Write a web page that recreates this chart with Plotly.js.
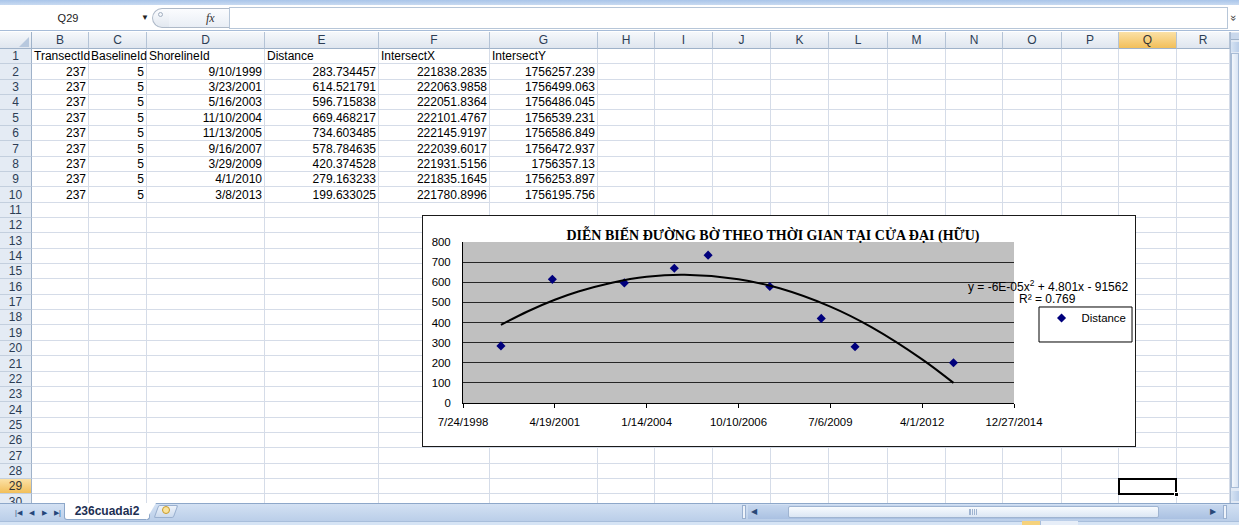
<!DOCTYPE html>
<html>
<head>
<meta charset="utf-8">
<script src="https://cdn.plot.ly/plotly-3.0.1.min.js"></script>
<style>
  html, body { margin: 0; padding: 0; }
  body {
    width: 1239px; height: 525px; overflow: hidden; position: relative;
    background: #fff; font-family: "Liberation Sans", Arial, sans-serif;
  }
  .a { position: absolute; box-sizing: border-box; }
  .txt { position: absolute; box-sizing: border-box; font-size: 12px; color: #000; white-space: nowrap; overflow: visible; }
  .hdr { position: absolute; box-sizing: border-box; font-size: 12px; color: #2c3d55; text-align: center;
         background: linear-gradient(#f6f8fb, #dfe6ef); border-right: 1px solid #b4c3d6; border-bottom: 1px solid #9fb2c9; }
  .hdr.sel { background: linear-gradient(#fbe1a6, #f2bf5a); color: #333; }
  .rowhdr { position: absolute; box-sizing: border-box; font-size: 12px; color: #2c3d55; text-align: center;
            background: #e4ebf4; border-bottom: 1px solid #c3cfde; border-right: 1px solid #9fb2c9; }
  .rowhdr.sel { background: linear-gradient(#fbe1a6, #f2bf5a); color: #333; }
  #chartBox { position: absolute; left: 422px; top: 215px; width: 712px; height: 230px;
              border: 1px solid #1a1a1a; background: #fff; }
  #chart { width: 712px; height: 230px; }
</style>
</head>
<body>
<div id="sheet"></div>
<div id="chartBox"><div id="chart"></div></div>
<script>
// ---- worksheet data (sheet "236cuadai2") ----
const headers        = ['TransectId', 'BaselineId', 'ShorelineId', 'Distance', 'IntersectX', 'IntersectY'];
const transectId     = [237, 237, 237, 237, 237, 237, 237, 237, 237];
const baselineId     = [5, 5, 5, 5, 5, 5, 5, 5, 5];
const shorelineDates = ['9/10/1999', '3/23/2001', '5/16/2003', '11/10/2004', '11/13/2005',
                        '9/16/2007', '3/29/2009', '4/1/2010', '3/8/2013'];
const distance       = [283.734457, 614.521791, 596.715838, 669.468217, 734.603485,
                        578.784635, 420.374528, 279.163233, 199.633025];
const intersectX     = ['221838.2835', '222063.9858', '222051.8364', '222101.4767', '222145.9197',
                        '222039.6017', '221931.5156', '221835.1645', '221780.8996'];
const intersectY     = ['1756257.239', '1756499.063', '1756486.045', '1756539.231', '1756586.849',
                        '1756472.937', '1756357.13', '1756253.897', '1756195.756'];

// polynomial trendline (order 2) of Distance, sampled along its curve
const trendDates  = ['1999-09-10', '2000-07-01', '2001-04-19', '2002-01-01', '2003-01-01', '2004-01-14',
                     '2005-03-01', '2006-10-10', '2008-01-01', '2009-07-06', '2010-10-01', '2012-04-01', '2013-03-08'];
const trendValues = [388, 456, 513, 554, 598, 627, 637, 615, 570, 479, 376, 217, 100];
const trendEquation = 'y = -6E-05x<sup>2</sup> + 4.801x - 91562';
const trendR2       = 'R² = 0.769';

const chartTitle  = 'DIỄN BIẾN ĐƯỜNG BỜ THEO THỜI GIAN TẠI CỬA ĐẠI (HỮU)';
const xTickLabels = ['7/24/1998', '4/19/2001', '1/14/2004', '10/10/2006', '7/6/2009', '4/1/2012', '12/27/2014'];

const colLetters = ['B', 'C', 'D', 'E', 'F', 'G', 'H', 'I', 'J', 'K', 'L', 'M', 'N', 'O', 'P', 'Q', 'R'];
const sheetName  = '236cuadai2';
const activeCell = 'Q29';

// ---- worksheet frame ----
const colEdges = [32, 89, 147, 265, 379, 490, 598, 655, 713, 771, 829, 888, 946, 1003, 1062, 1119, 1177, 1230];
const HEAD_TOP = 32, ROW_TOP = 49, ROW_H = 15.36, GRID_BOTTOM = 503;
const rowTop = n => ROW_TOP + (n - 1) * ROW_H;

const sheet = document.getElementById('sheet');
function box(css, text, cls) {
  const d = document.createElement('div');
  d.className = cls || 'a';
  d.style.cssText = css;
  if (text != null) d.textContent = text;
  sheet.appendChild(d);
  return d;
}

// top strip + formula bar
box('left:0;top:0;width:1239px;height:5px;background:linear-gradient(#a9c5ea,#c8daf1);');
box('left:0;top:5px;width:1239px;height:26px;background:#fff;border-bottom:1px solid #a7bcd8;');
box('left:0;top:8px;width:136px;height:20px;line-height:20px;text-align:center;font-size:11px;color:#222;', activeCell, 'txt');
box('left:141px;top:9px;width:10px;height:18px;line-height:18px;font-size:8px;color:#222;', '▼', 'txt');
box('left:152px;top:8px;width:17px;height:20px;border:1px solid #aeb9c8;border-right:none;border-radius:10px 0 0 10px;background:linear-gradient(#fbfcfe,#e2e8f0);');
box('left:158px;top:12px;width:5px;height:5px;border:1px solid #a2afc0;border-radius:50%;');
box('left:169px;top:8px;width:60px;height:20px;border-top:1px solid #aeb9c8;border-bottom:1px solid #aeb9c8;background:linear-gradient(#fbfcfe,#e9eef5);');
box('left:206px;top:9px;width:16px;height:18px;line-height:18px;font-family:"Liberation Serif",serif;font-style:italic;font-size:12px;color:#333;', 'fx', 'txt');
box('left:229px;top:7px;width:999px;height:22px;border:1px solid #b7c6d8;background:#fff;');
box('left:1229px;top:9px;width:10px;height:18px;line-height:18px;text-align:center;font-size:11px;color:#333;transform:rotate(90deg);', '»', 'txt');

// corner + column headers
box('left:0;top:' + HEAD_TOP + 'px;width:32px;height:17px;background:linear-gradient(#f6f8fb,#dfe6ef);border-right:1px solid #9fb2c9;border-bottom:1px solid #9fb2c9;');
box('left:19px;top:' + (HEAD_TOP + 5) + 'px;width:0;height:0;border-left:10px solid transparent;border-bottom:10px solid #b7c8de;');
colLetters.forEach((c, i) => {
  const w = colEdges[i + 1] - colEdges[i];
  box('left:' + colEdges[i] + 'px;top:' + HEAD_TOP + 'px;width:' + w + 'px;height:17px;line-height:16px;',
      c, 'hdr' + (c === activeCell[0] ? ' sel' : ''));
});

// grid lines
for (let n = 1; n <= 30; n++) {
  const y = Math.round(rowTop(n + 1)) - 1;
  if (y < GRID_BOTTOM) box('left:32px;top:' + y + 'px;width:' + (1230 - 32) + 'px;height:1px;background:#d5dce8;');
}
colEdges.slice(1).forEach(x => {
  box('left:' + (x - 1) + 'px;top:' + ROW_TOP + 'px;width:1px;height:' + (GRID_BOTTOM - ROW_TOP) + 'px;background:#d5dce8;');
});

// row headers
for (let n = 1; n <= 30; n++) {
  const t = Math.round(rowTop(n)), b = Math.round(rowTop(n + 1));
  box('left:0;top:' + t + 'px;width:32px;height:' + (b - t) + 'px;line-height:' + (b - t) + 'px;',
      String(n), 'rowhdr' + (n === 29 ? ' sel' : ''));
}

// cell contents
function cellText(col, row, text, align) {
  const i = colLetters.indexOf(col);
  const l = colEdges[i], w = colEdges[i + 1] - colEdges[i];
  const t = Math.round(rowTop(row)), h = Math.round(rowTop(row + 1)) - t;
  const pad = align === 'left' ? 'padding-left:2px;' : 'padding-right:3px;';
  box('left:' + l + 'px;top:' + t + 'px;width:' + w + 'px;height:' + h + 'px;line-height:' + h + 'px;text-align:' + align + ';' + pad,
      text, 'txt');
}
headers.forEach((h, i) => cellText(colLetters[i], 1, h, 'left'));
shorelineDates.forEach((d, k) => {
  const r = k + 2;
  cellText('B', r, String(transectId[k]), 'right');
  cellText('C', r, String(baselineId[k]), 'right');
  cellText('D', r, d, 'right');
  cellText('E', r, String(distance[k]), 'right');
  cellText('F', r, intersectX[k], 'right');
  cellText('G', r, intersectY[k], 'right');
});

// active cell outline
(function () {
  const i = colLetters.indexOf(activeCell[0]);
  const t = Math.round(rowTop(29)) - 1, b = Math.round(rowTop(30));
  box('left:' + (colEdges[i] - 1) + 'px;top:' + t + 'px;width:' + (colEdges[i + 1] - colEdges[i] + 1) + 'px;height:' + (b - t + 1) + 'px;border:2px solid #000;');
  box('left:' + (colEdges[i + 1] - 3) + 'px;top:' + (b - 2) + 'px;width:5px;height:5px;background:#000;border:1px solid #fff;');
})();

// vertical scrollbar
box('left:1230px;top:32px;width:9px;height:471px;background:#e1e9f4;border-left:1px solid #aabcd4;');
box('left:1231px;top:33px;width:8px;height:7px;background:#c9d8ec;border-bottom:1px solid #9fb2c9;');
box('left:1231px;top:42px;width:8px;height:10px;background:linear-gradient(90deg,#d6e3f3,#b9cde8);');
box('left:1231px;top:53px;width:8px;height:435px;background:linear-gradient(90deg,#f3f7fc,#d8e4f3);border:1px solid #a8bcd6;');
box('left:1231px;top:491px;width:8px;height:10px;background:linear-gradient(90deg,#d6e3f3,#b9cde8);');

// sheet tab bar + horizontal scrollbar + status bar
box('left:0;top:503px;width:1239px;height:19px;background:linear-gradient(#d3e1f3,#b9cde8);border-top:1px solid #8da7c9;');
['|◀', '◀', '▶', '▶|'].forEach((g, k) => {
  box('left:' + (12 + k * 13) + 'px;top:505px;width:13px;height:15px;line-height:15px;font-size:7px;text-align:center;color:#24467a;', g, 'txt');
});
box('left:64px;top:503px;width:86px;height:17px;background:#fff;border:1px solid #8da7c9;border-top:none;border-radius:0 0 3px 3px;');
box('left:146px;top:503px;width:0;height:0;border-top:17px solid #fff;border-right:10px solid transparent;');
box('left:66px;top:503px;width:82px;height:17px;line-height:16px;text-align:center;font-weight:bold;font-size:12px;color:#1c2f52;', sheetName, 'txt');
box('left:156px;top:505px;width:20px;height:13px;background:linear-gradient(#eef3fa,#cbdaee);border:1px solid #9ab0cf;border-radius:2px;transform:skewX(-20deg);');
box('left:162px;top:506px;width:8px;height:8px;border:1px solid #c79a2b;border-radius:50%;background:#fbe39b;');
box('left:742px;top:505px;width:4px;height:14px;background:#eef3fa;border:1px solid #9ab0cf;');
box('left:748px;top:505px;width:475px;height:14px;background:linear-gradient(#c6d7ee,#aac1e2);');
box('left:751px;top:505px;width:12px;height:14px;line-height:14px;font-size:8px;color:#2a4877;', '◀', 'txt');
box('left:788px;top:506px;width:371px;height:12px;background:linear-gradient(#f8fbfe,#dbe6f4);border:1px solid #9fb4d1;border-radius:2px;');
box('left:969px;top:509px;width:8px;height:6px;border-left:1px solid #9fb4d1;border-right:1px solid #9fb4d1;background:repeating-linear-gradient(90deg,#9fb4d1 0 1px,transparent 1px 2px);');
box('left:1210px;top:505px;width:12px;height:14px;line-height:14px;font-size:8px;color:#2a4877;', '▶', 'txt');
box('left:1223px;top:505px;width:4px;height:14px;background:#eef3fa;border:1px solid #9ab0cf;');
box('left:0;top:521px;width:1239px;height:4px;background:#d6e4f5;border-top:1px solid #a8bedb;');
box('left:1022px;top:521px;width:18px;height:4px;background:#f6d27c;');
box('left:1040px;top:521px;width:38px;height:4px;background:#e7eef8;border-left:1px solid #a8bedb;');

// ---- chart ----
const toISO = s => {
  const [m, d, y] = s.split('/');
  return y + '-' + m.padStart(2, '0') + '-' + d.padStart(2, '0');
};
const tickDates = xTickLabels.map(toISO);

const traces = [
  {
    type: 'scatter', mode: 'markers', name: 'Distance',
    x: shorelineDates.map(toISO), y: distance,
    marker: { symbol: 'diamond', size: 7, color: '#00007c' }
  },
  {
    type: 'scatter', mode: 'lines', name: 'Poly. (Distance)', showlegend: false,
    x: trendDates, y: trendValues,
    line: { color: '#000', width: 2, shape: 'spline' }
  }
];

const layout = {
  width: 712, height: 230,
  margin: { l: 40, r: 121, t: 26, b: 43, pad: 0, autoexpand: false },
  paper_bgcolor: '#fff', plot_bgcolor: '#c0c0c0',
  font: { family: 'Liberation Sans, Arial, sans-serif', size: 11, color: '#000' },
  title: {
    text: chartTitle,
    font: { family: 'Liberation Serif, Times New Roman, serif', size: 14, color: '#000', weight: 'bold' },
    xref: 'paper', x: 0.5626, xanchor: 'center',
    yref: 'container', y: 0.917, yanchor: 'middle'
  },
  xaxis: {
    type: 'date', range: [tickDates[0], tickDates[tickDates.length - 1]],
    tickmode: 'array', tickvals: tickDates, ticktext: xTickLabels,
    ticks: 'outside', ticklen: 4, tickwidth: 1, tickcolor: '#000',
    showline: true, linecolor: '#000', linewidth: 1,
    showgrid: false, zeroline: false, ticklabelstandoff: 4,
    tickfont: { size: 11.4, color: '#000' }
  },
  yaxis: {
    range: [0, 800], tick0: 0, dtick: 100,
    ticks: '', showline: true, linecolor: '#000', linewidth: 1,
    showgrid: true, gridcolor: '#262626', gridwidth: 1,
    zeroline: false, ticklabelstandoff: 9,
    tickfont: { size: 11.4, color: '#000' }
  },
  showlegend: true,
  legend: {
    x: 1.05, xanchor: 'left', y: 0.528, yanchor: 'middle',
    bgcolor: 'rgba(0,0,0,0)', borderwidth: 0,
    font: { size: 11.4, color: '#000' }
  },
  shapes: [{
    type: 'rect', xref: 'paper', yref: 'paper', layer: 'below',
    x0: 1.0454, x1: 1.2142, y0: 0.3789, y1: 0.5963,
    line: { color: '#000', width: 1 }, fillcolor: '#fff'
  }],
  annotations: [
    { xref: 'paper', yref: 'paper', x: 1.0617, y: 0.7267, xanchor: 'center', yanchor: 'middle',
      showarrow: false, text: trendEquation, font: { size: 12, color: '#000' } },
    { xref: 'paper', yref: 'paper', x: 1.0617, y: 0.646, xanchor: 'center', yanchor: 'middle',
      showarrow: false, text: trendR2, font: { size: 12, color: '#000' } }
  ]
};

Plotly.newPlot('chart', traces, layout, { staticPlot: true, displayModeBar: false });
</script>
</body>
</html>
